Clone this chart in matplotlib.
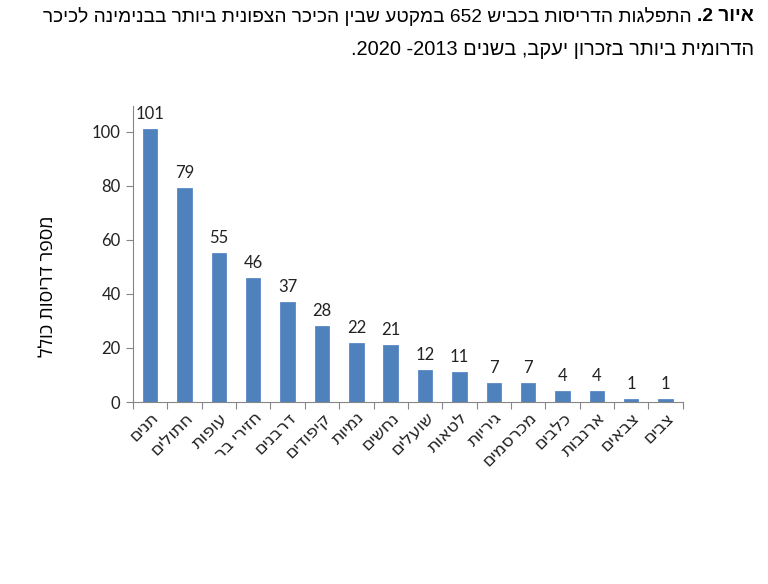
import re
import numpy as np
import matplotlib
matplotlib.use("Agg")
import matplotlib.pyplot as plt

# Data
categories = ["תנים", "חתולים", "עופות", "חזירי בר", "דרבנים", "קיפודים", "נמיות", "נחשים",
              "שועלים", "לטאות", "גיריות", "מכרסמים", "כלבים", "ארנבות", "צבאים", "צבים"]
counts = [101, 79, 55, 46, 37, 28, 22, 21, 12, 11, 7, 7, 4, 4, 1, 1]
y_ticks = [0, 20, 40, 60, 80, 100]

title_bold = "איור 2."
title_line1 = "התפלגות הדריסות בכביש 652 במקטע שבין הכיכר הצפונית ביותר בבנימינה לכיכר"
title_line2 = "הדרומית ביותר בזכרון יעקב, בשנים 2013- 2020."
y_label = "מספר דריסות כולל"

BAR_COLOR = "#4f81bd"
AXIS_COLOR = "#868686"
LABEL_FONT = ["Lato", "DejaVu Sans"]
TITLE_FONT = ["Liberation Sans", "DejaVu Sans"]


def rtl(s):
    # matplotlib has no bidi support: reverse to visual order, keep digit runs LTR
    r = s[::-1]
    return re.sub(r"\d+", lambda m: m.group(0)[::-1], r)


fig = plt.figure(figsize=(7.68, 5.84), dpi=100)
ax = fig.add_axes([0.1732, 0.3116, 0.7158, 0.507])

x = np.arange(len(categories))
ax.bar(x, counts, width=0.42, color=BAR_COLOR, edgecolor="#5a8ac6", linewidth=0.6, zorder=2)

for xi, v in zip(x, counts):
    ax.annotate(str(v), (xi, v), xytext=(0, 5), textcoords="offset points",
                ha="center", va="bottom", fontsize=12, family=LABEL_FONT, color="#222222")

ax.set_xlim(-0.5, len(categories) - 0.5)
ax.set_ylim(0, 109.5)

ax.set_yticks(y_ticks)
ax.set_yticklabels([str(t) for t in y_ticks], fontsize=12, family=LABEL_FONT, color="#222222")

# category ticks sit between bars, labels in the centre
ax.set_xticks(np.arange(-0.5, len(categories), 1.0))
ax.set_xticklabels([])
ax.set_xticks(x, minor=True)
ax.set_xticklabels([rtl(c) for c in categories], minor=True, rotation=45, ha="right",
                   rotation_mode="anchor", fontsize=12.5, family=LABEL_FONT, color="#222222")
ax.tick_params(axis="x", which="minor", length=0, pad=5)
ax.tick_params(axis="x", which="major", length=5, color=AXIS_COLOR, width=0.8)
ax.tick_params(axis="y", length=5, color=AXIS_COLOR, width=0.8, pad=4)

for side in ["top", "right"]:
    ax.spines[side].set_visible(False)
for side in ["left", "bottom"]:
    ax.spines[side].set_color(AXIS_COLOR)
    ax.spines[side].set_linewidth(0.8)

ax.set_ylabel(rtl(y_label), fontsize=14, family=["Open Sans", "DejaVu Sans"])
ax.yaxis.set_label_coords(-0.138, 0.39)

# ── Title: right aligned, bold figure number on the right ──────────────────────
right_x = 0.982
t_bold = fig.text(right_x, 0.971, rtl(title_bold), ha="right", va="center",
                  fontsize=13.8, fontweight="bold", family=TITLE_FONT)
fig.canvas.draw()
bb = t_bold.get_window_extent(renderer=fig.canvas.get_renderer())
left_of_bold = bb.x0 / fig.bbox.width
fig.text(left_of_bold - 0.007, 0.971, rtl(title_line1), ha="right", va="center",
         fontsize=13.8, family=TITLE_FONT)
fig.text(right_x, 0.916, rtl(title_line2), ha="right", va="center",
         fontsize=14.4, family=TITLE_FONT)

fig.savefig("out.png", dpi=100)
